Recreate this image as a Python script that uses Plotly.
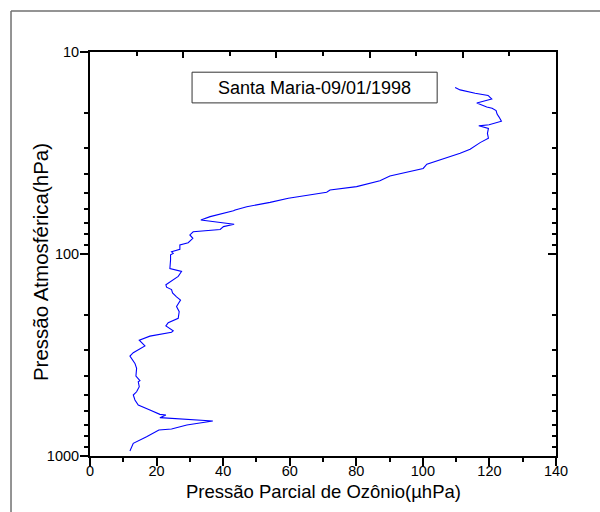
import plotly.graph_objects as go

# Ozone profile, Santa Maria 09/01/1998 (surface upward)
ozone = [12.0, 13.0, 17.0, 20.0, 20.7, 24.5, 29.1, 36.9, 21.0, 22.8, 21.0, 18.0,
         14.5, 13.5, 13.0, 14.0, 14.8, 14.5, 15.0, 13.8, 14.0, 13.5, 12.0, 13.0,
         15.0, 16.5, 14.8, 18.0, 24.5, 25.0, 22.8, 23.5, 26.5, 26.8, 26.0, 27.2,
         26.0, 24.8, 24.5, 23.0, 22.8, 24.2, 26.5, 27.5, 25.5, 24.0, 24.2, 24.2,
         25.0, 24.5, 27.0, 27.0, 29.5, 30.9, 30.0, 30.6, 31.0, 39.1, 40.1, 43.3,
         33.3, 36.1, 40.6, 43.1, 43.6, 47.1, 54.1, 59.6, 71.1, 72.1, 80.1, 84.1,
         87.1, 90.1, 100.1, 101.2, 105.2, 111.2, 114.2, 117.2, 119.7, 119.4, 119.7,
         116.8, 119.9, 123.6, 122.9, 122.3, 122.0, 120.8, 119.2, 116.2, 120.7,
         119.6, 115.7, 111.2, 109.7]
pressure = [944, 865, 802, 758, 743, 735, 703, 671, 646, 627, 622, 592,
            559, 528, 499, 481, 454, 429, 424, 402, 368, 348, 320, 308,
            296, 285, 267, 255, 244, 240, 227, 219, 208, 193, 182, 169,
            163, 156, 150, 146, 142, 137, 129, 122, 120, 118, 107, 101,
            99.3, 97.5, 94.8, 90.2, 87.9, 83.6, 80.5, 79.0, 77.6, 75.6, 73.2, 71.2,
            67.9, 65.3, 62.9, 61.1, 60.5, 58.3, 55.5, 53.0, 49.5, 48.2, 46.4, 44.7,
            43.4, 41.1, 37.7, 35.9, 34.2, 31.7, 30.3, 28.1, 26.7, 25.3, 23.9,
            23.2, 22.9, 22.0, 21.0, 20.3, 19.5, 19.0, 18.7, 17.9, 17.1,
            16.4, 16.0, 15.4, 15.0]

x_ticks = [0, 20, 40, 60, 80, 100, 120, 140]
x_minor = [10, 30, 50, 70, 90, 110, 130]
top_ticks = [28, 56, 84, 112]
top_minor = [14, 42, 70, 98, 126]
y_ticks = [10, 100, 1000]
y_minor = [20, 30, 40, 50, 60, 70, 80, 90, 200, 300, 400, 500, 600, 700, 800, 900]

title_text = "Santa Maria-09/01/1998"
x_title = "Pressão Parcial de Ozônio(µhPa)"
y_title = "Pressão Atmosférica(hPa)"

FONT = "Liberation Sans, Arial, sans-serif"

fig = go.Figure()
fig.add_trace(go.Scatter(x=ozone, y=pressure, mode="lines",
                         line=dict(color="#0000ff", width=1.1),
                         showlegend=False, hoverinfo="skip"))
# invisible trace to anchor the top/right axes
fig.add_trace(go.Scatter(x=[ozone[0]], y=[pressure[0]], xaxis="x2", yaxis="y2",
                         mode="markers", marker=dict(opacity=0),
                         showlegend=False, hoverinfo="skip"))

common = dict(showline=True, linecolor="black", linewidth=2, showgrid=False,
              zeroline=False, tickcolor="black", tickwidth=1.5)

fig.update_layout(
    width=600, height=512,
    margin=dict(l=90, r=44, t=52, b=56),
    paper_bgcolor="white", plot_bgcolor="white",
    font=dict(family=FONT, color="black"),
    xaxis=dict(range=[0, 140], tickmode="array", tickvals=x_ticks,
               ticks="outside", ticklen=8, ticklabelstandoff=-7,
               minor=dict(tickmode="array", tickvals=x_minor, ticks="outside",
                          ticklen=4, tickcolor="black", tickwidth=1.5),
               tickfont=dict(size=14.5),
               **common),
    yaxis=dict(type="log", range=[3, 1], tickmode="array", tickvals=y_ticks,
               ticktext=["10", "100", "1000"],
               ticks="outside", ticklen=8, ticklabelstandoff=-2,
               minor=dict(tickmode="array", tickvals=y_minor, ticks="outside",
                          ticklen=4, tickcolor="black", tickwidth=1.5),
               tickfont=dict(size=14.5),
               **common),
    xaxis2=dict(overlaying="x", side="top", range=[0, 140], tickmode="array",
                tickvals=top_ticks, ticks="inside", ticklen=6,
                minor=dict(tickmode="array", tickvals=top_minor, ticks="inside",
                           ticklen=4, tickcolor="black", tickwidth=1.5),
                showticklabels=False, anchor="y2", **common),
    yaxis2=dict(overlaying="y", side="right", type="log", range=[3, 1],
                tickmode="array", tickvals=y_ticks, ticks="inside", ticklen=8,
                minor=dict(tickmode="array", tickvals=y_minor, ticks="inside",
                           ticklen=4, tickcolor="black", tickwidth=1.5),
                showticklabels=False, anchor="x2", **common),
    shapes=[
        dict(type="line", xref="paper", yref="paper",
             x0=-0.1695, x1=-0.1695, y0=-0.3, y1=1.1015,
             line=dict(color="#707070", width=1.5), layer="below"),
        dict(type="line", xref="paper", yref="paper",
             x0=-0.1695, x1=1.3, y0=1.1015, y1=1.1015,
             line=dict(color="#707070", width=1.5), layer="below"),
        dict(type="rect", xref="paper", yref="paper",
             x0=0.219, x1=0.745, y0=0.874, y1=0.950,
             line=dict(color="#333333", width=1), fillcolor="white"),
    ],
    annotations=[
        dict(text=title_text, xref="paper", yref="paper", x=0.482, y=0.912,
             xanchor="center", yanchor="middle", showarrow=False,
             font=dict(size=18, family=FONT, color="black")),
        dict(text=x_title, xref="paper", yref="paper", x=0.502, y=-0.089,
             xanchor="center", yanchor="middle", showarrow=False,
             font=dict(size=18.5, family=FONT, color="black")),
        dict(text=y_title, xref="paper", yref="paper", x=-0.1073, y=0.480,
             xanchor="center", yanchor="middle", showarrow=False, textangle=-90,
             font=dict(size=20.5, family=FONT, color="black")),
    ],
)

fig.write_html(
    "out.html",
    config={"displayModeBar": False},
    post_script="document.body.style.margin='0';"
                "document.documentElement.style.overflow='hidden';"
                "document.body.style.overflow='hidden';",
)
